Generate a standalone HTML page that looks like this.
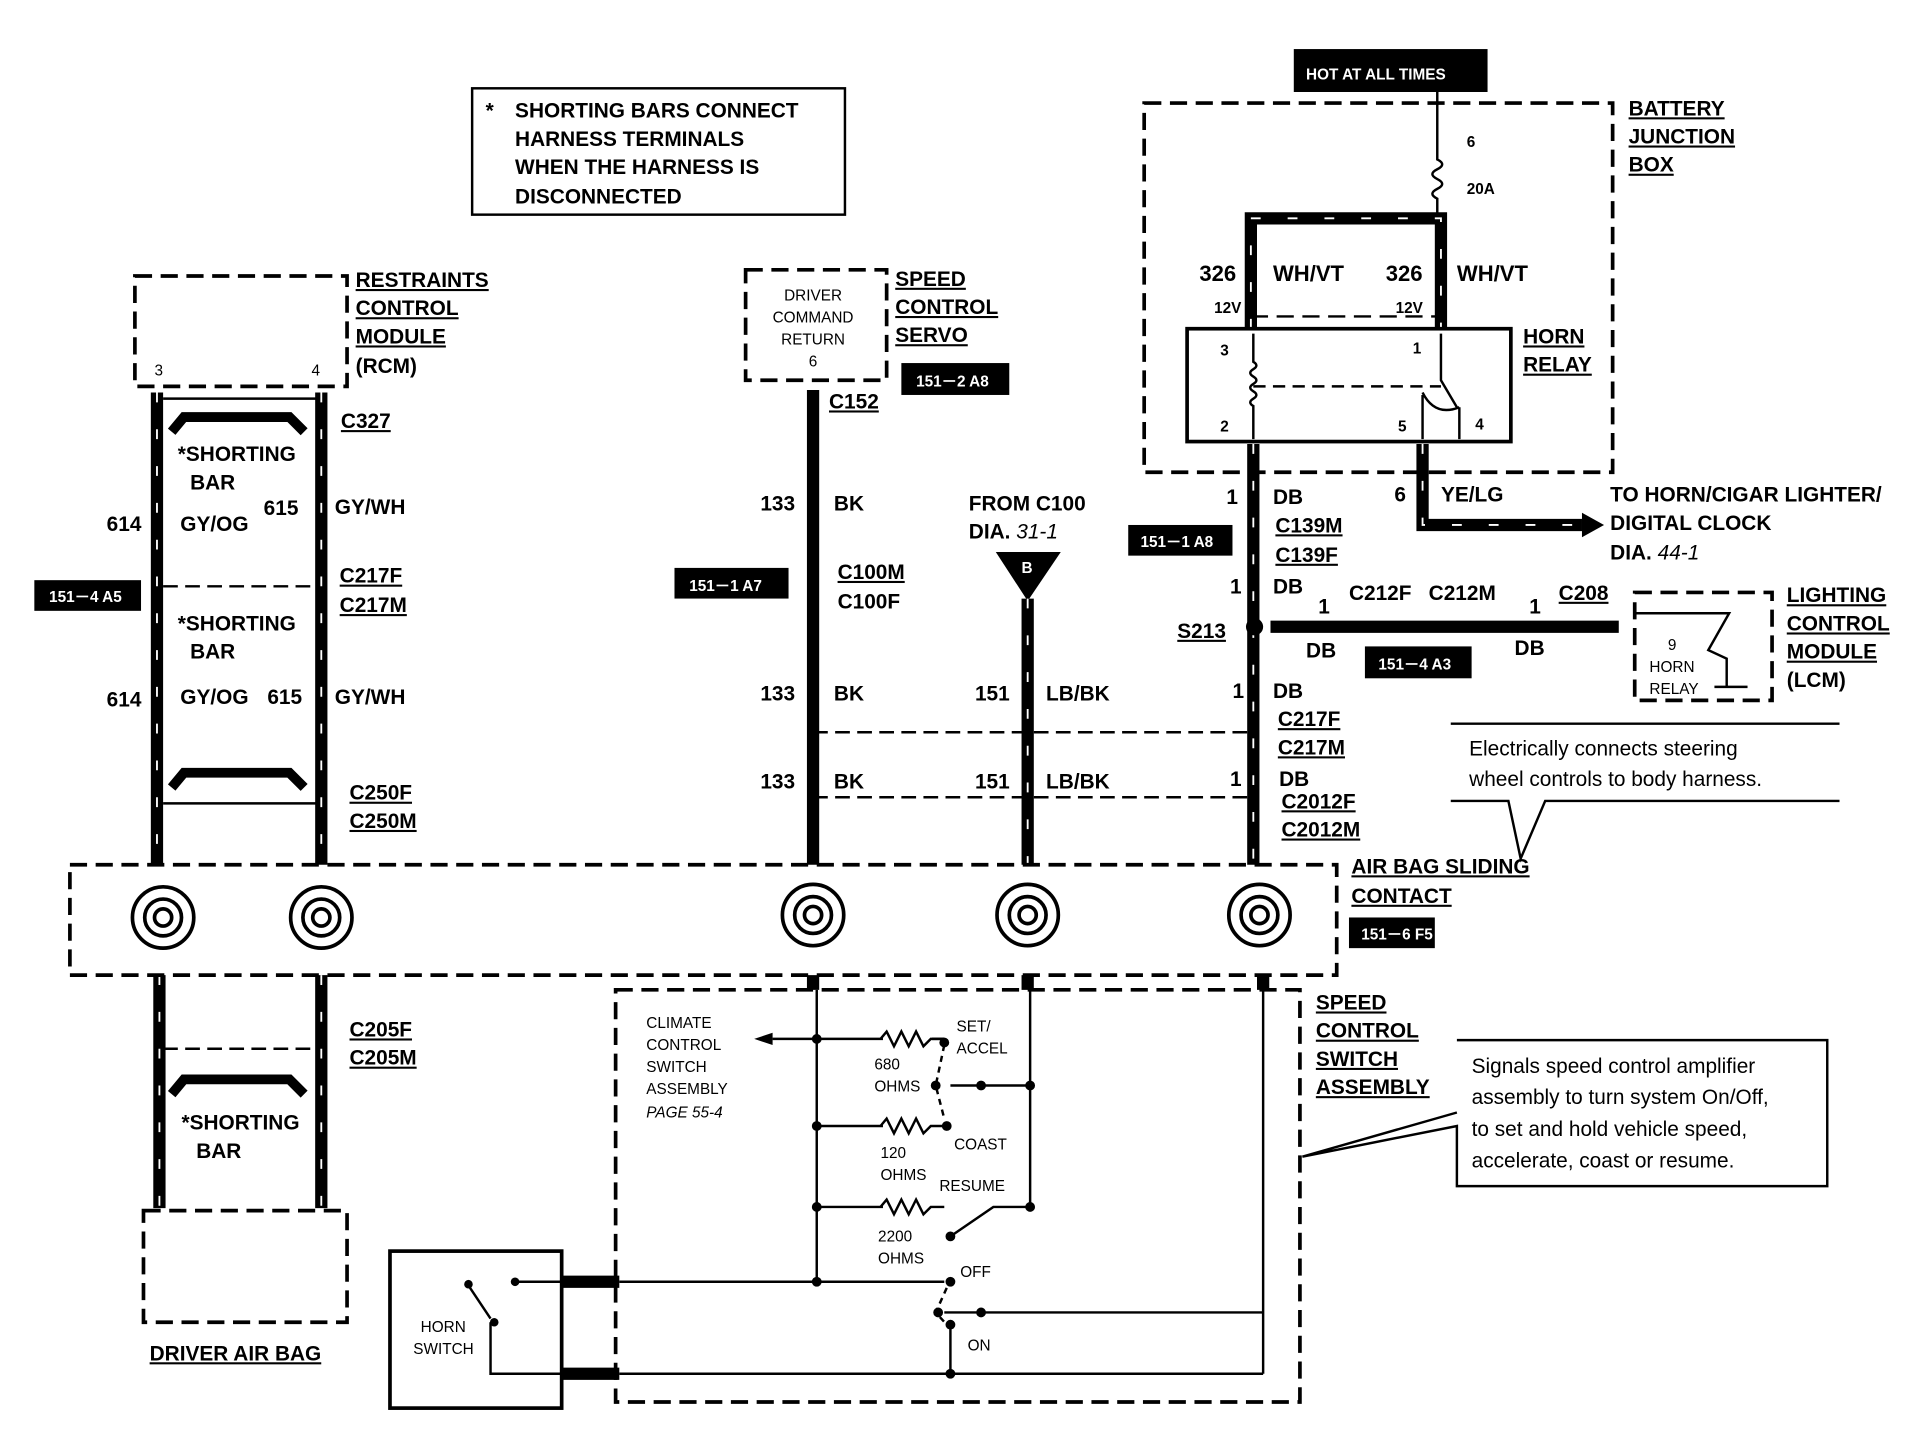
<!DOCTYPE html>
<html><head><meta charset="utf-8"><style>
html,body{margin:0;padding:0;background:#fff}
svg{display:block}
text{font-family:"Liberation Sans",Arial,sans-serif;fill:#000}
.b{font-weight:bold;font-size:17px}
.u{text-decoration:underline}
.s{font-size:12.5px}
.m{font-size:18px}
.w{fill:#fff;font-weight:bold;font-size:12.5px}
.d{fill:none;stroke:#000;stroke-width:3;stroke-dasharray:14 7}
.t{stroke:#000;stroke-width:10;fill:none}
.n{stroke:#000;stroke-width:2;fill:none}
.sl{stroke:#fff;stroke-width:1.5;stroke-dasharray:8 22;fill:none}
</style></head><body>
<svg width="1918" height="1440" viewBox="0 0 1564 1174" preserveAspectRatio="none" xmlns="http://www.w3.org/2000/svg">
<rect width="1564" height="1174" fill="#fff"/>
<rect x="385" y="72" width="304" height="103" fill="none" stroke="#000" stroke-width="2"/>
<text class="b" x="396" y="96">*</text>
<text class="b" x="420" y="96">SHORTING BARS CONNECT</text>
<text class="b" x="420" y="119">HARNESS TERMINALS</text>
<text class="b" x="420" y="142">WHEN THE HARNESS IS</text>
<text class="b" x="420" y="166">DISCONNECTED</text>
<rect x="1055" y="40" width="158" height="35" fill="#000"/>
<text class="w" x="1065" y="65">HOT AT ALL TIMES</text>
<rect class="d" x="933" y="84" width="382" height="301"/>
<text class="b u" x="1328" y="94">BATTERY</text>
<text class="b u" x="1328" y="117">JUNCTION</text>
<text class="b u" x="1328" y="140">BOX</text>
<path class="n" d="M1172 75V130 q8 4 0 8 q-8 4 0 8 q8 4 0 8 q-8 4 0 8V178"/>
<text class="b s" x="1196" y="120">6</text>
<text class="b s" x="1196" y="158">20A</text>
<path class="t" d="M1020 268V178H1175V268"/>
<path class="sl" d="M1020 268V178H1175V268"/>
<line x1="1020" y1="258" x2="1175" y2="258" stroke="#000" stroke-width="2" stroke-dasharray="14 7"/>
<text class="b m" x="978" y="229">326</text><text class="b m" x="1038" y="229">WH/VT</text>
<text class="b m" x="1130" y="229">326</text><text class="b m" x="1188" y="229">WH/VT</text>
<text class="b s" x="990" y="255">12V</text><text class="b s" x="1138" y="255">12V</text>
<rect x="968" y="268" width="264" height="92" fill="none" stroke="#000" stroke-width="3"/>
<text class="b u" x="1242" y="280">HORN</text><text class="b u" x="1242" y="303">RELAY</text>
<text class="b s" x="995" y="290">3</text><text class="b s" x="995" y="352">2</text>
<text class="b s" x="1152" y="288">1</text><text class="b s" x="1140" y="352">5</text><text class="b s" x="1203" y="350">4</text>
<path class="n" d="M1022 272V295 q5 3 0 6 q-5 3 0 6 q5 3 0 6 q-5 3 0 6 q5 3 0 6 q-5 3 0 6V358"/>
<line x1="1022" y1="315" x2="1175" y2="315" class="n" stroke-dasharray="10 6"/>
<path class="n" d="M1175 272V310L1188 332M1190 332V358M1160 320q10 20 30 12M1160 322V358"/>
<path class="t" d="M1022 362V705"/><path class="sl" d="M1022 362V705"/>
<path class="t" d="M1160 362V428H1290"/><path class="sl" d="M1160 362V428H1290"/>
<path d="M1290 418L1308 428L1290 438Z"/>
<text class="b" x="1000" y="411">1</text><text class="b" x="1038" y="411">DB</text>
<text class="b" x="1137" y="409">6</text><text class="b" x="1175" y="409">YE/LG</text>
<text class="b" x="1313" y="409">TO HORN/CIGAR LIGHTER/</text>
<text class="b" x="1313" y="432">DIGITAL CLOCK</text>
<text class="b" x="1313" y="456">DIA. <tspan font-style="italic" font-weight="normal">44-1</tspan></text>
<rect x="920" y="428" width="85" height="25" fill="#000"/><text class="w" x="930" y="446">151－1 A8</text>
<text class="b u" x="1040" y="434">C139M</text><text class="b u" x="1040" y="458">C139F</text>
<text class="b" x="1003" y="484">1</text><text class="b" x="1038" y="484">DB</text>
<text class="b u" x="960" y="520">S213</text>
<circle cx="1023" cy="511" r="7"/>
<path class="t" d="M1036 511H1320"/>
<text class="b" x="1100" y="489">C212F</text><text class="b" x="1165" y="489">C212M</text>
<text class="b" x="1075" y="500">1</text><text class="b" x="1065" y="536">DB</text>
<text class="b" x="1247" y="500">1</text><text class="b u" x="1271" y="489">C208</text><text class="b" x="1235" y="534">DB</text>
<rect x="1113" y="527" width="87" height="26" fill="#000"/><text class="w" x="1124" y="546">151－4 A3</text>
<rect class="d" x="1333" y="483" width="112" height="88"/>
<text class="s" x="1360" y="530">9</text><text class="s" x="1345" y="548">HORN</text><text class="s" x="1345" y="566">RELAY</text>
<path class="n" d="M1333 500H1410L1393 530L1408 537V560M1398 560H1425"/>
<text class="b u" x="1457" y="491">LIGHTING</text><text class="b u" x="1457" y="514">CONTROL</text>
<text class="b u" x="1457" y="537">MODULE</text><text class="b" x="1457" y="560">(LCM)</text>
<text class="b" x="1005" y="569">1</text><text class="b" x="1038" y="569">DB</text>
<text class="b u" x="1042" y="592">C217F</text><text class="b u" x="1042" y="615">C217M</text>
<text class="b" x="1003" y="641">1</text><text class="b" x="1043" y="641">DB</text>
<text class="b u" x="1045" y="659">C2012F</text><text class="b u" x="1045" y="682">C2012M</text>
<line x1="663" y1="597" x2="1022" y2="597" class="n" stroke-dasharray="12 6"/>
<line x1="663" y1="650" x2="1022" y2="650" class="n" stroke-dasharray="12 6"/>
<path class="n" d="M1183 590H1500M1183 653H1230L1240 700L1260 653H1500" stroke-width="1.5"/>
<text x="1198" y="616" font-size="17">Electrically connects steering</text>
<text x="1198" y="641" font-size="17">wheel controls to body harness.</text>
<rect class="d" x="608" y="220" width="115" height="90"/>
<text class="s" x="663" y="245" text-anchor="middle">DRIVER</text>
<text class="s" x="663" y="263" text-anchor="middle">COMMAND</text>
<text class="s" x="663" y="281" text-anchor="middle">RETURN</text>
<text class="s" x="663" y="299" text-anchor="middle">6</text>
<text class="b u" x="730" y="233">SPEED</text><text class="b u" x="730" y="256">CONTROL</text><text class="b u" x="730" y="279">SERVO</text>
<rect x="735" y="296" width="88" height="26" fill="#000"/><text class="w" x="747" y="315">151－2 A8</text>
<path class="t" d="M663 318V705"/>
<text class="b u" x="676" y="333">C152</text>
<text class="b" x="620" y="416">133</text><text class="b" x="680" y="416">BK</text>
<rect x="550" y="463" width="93" height="25" fill="#000"/><text class="w" x="562" y="482">151－1 A7</text>
<text class="b u" x="683" y="472">C100M</text><text class="b" x="683" y="496">C100F</text>
<text class="b" x="620" y="571">133</text><text class="b" x="680" y="571">BK</text>
<text class="b" x="620" y="643">133</text><text class="b" x="680" y="643">BK</text>
<text class="b" x="790" y="416">FROM C100</text>
<text class="b" x="790" y="439">DIA. <tspan font-style="italic" font-weight="normal">31-1</tspan></text>
<path d="M812 450H865L838 490Z"/><text class="w" x="833" y="467" font-size="14">B</text>
<path class="t" d="M838 488V705"/><path class="sl" d="M838 488V705"/>
<text class="b" x="795" y="571">151</text><text class="b" x="853" y="571">LB/BK</text>
<text class="b" x="795" y="643">151</text><text class="b" x="853" y="643">LB/BK</text>
<rect class="d" x="110" y="225" width="173" height="90"/>
<text class="s" x="126" y="306">3</text><text class="s" x="254" y="306">4</text>
<text class="b u" x="290" y="234">RESTRAINTS</text><text class="b u" x="290" y="257">CONTROL</text>
<text class="b u" x="290" y="280">MODULE</text><text class="b" x="290" y="304">(RCM)</text>
<path class="t" d="M128 320V705M262 320V705M130 795V985M262 795V985"/>
<path class="sl" d="M128 320V705M262 320V705M130 795V985M262 795V985"/>
<path class="n" d="M133 325H258M133 655H258"/>
<line x1="133" y1="478" x2="258" y2="478" class="n" stroke-dasharray="12 6"/>
<line x1="133" y1="855" x2="258" y2="855" class="n" stroke-dasharray="12 6"/>
<path d="M140 352L150 340H236L248 352" fill="none" stroke="#000" stroke-width="8"/>
<path d="M140 642L150 630H236L248 642" fill="none" stroke="#000" stroke-width="8"/>
<path d="M140 892L150 880H236L248 892" fill="none" stroke="#000" stroke-width="8"/>
<text class="b u" x="278" y="349">C327</text>
<text class="b" x="145" y="376">*SHORTING</text><text class="b" x="155" y="399">BAR</text>
<text class="b" x="87" y="433">614</text><text class="b" x="147" y="433">GY/OG</text>
<text class="b" x="215" y="420">615</text><text class="b" x="273" y="419">GY/WH</text>
<text class="b u" x="277" y="475">C217F</text><text class="b u" x="277" y="499">C217M</text>
<rect x="28" y="473" width="87" height="25" fill="#000"/><text class="w" x="40" y="491">151－4 A5</text>
<text class="b" x="145" y="514">*SHORTING</text><text class="b" x="155" y="537">BAR</text>
<text class="b" x="87" y="576">614</text><text class="b" x="147" y="574">GY/OG</text>
<text class="b" x="218" y="574">615</text><text class="b" x="273" y="574">GY/WH</text>
<text class="b u" x="285" y="652">C250F</text><text class="b u" x="285" y="675">C250M</text>
<text class="b u" x="285" y="845">C205F</text><text class="b u" x="285" y="868">C205M</text>
<text class="b" x="148" y="921">*SHORTING</text><text class="b" x="160" y="944">BAR</text>
<rect class="d" x="117" y="987" width="166" height="91"/>
<text class="b u" x="122" y="1109">DRIVER AIR BAG</text>
<rect class="d" x="57" y="705" width="1033" height="90"/>
<g fill="#fff" stroke="#000" stroke-width="3">
<circle cx="133" cy="748" r="25"/><circle cx="133" cy="748" r="15"/><circle cx="133" cy="748" r="7"/>
<circle cx="262" cy="748" r="25"/><circle cx="262" cy="748" r="15"/><circle cx="262" cy="748" r="7"/>
<circle cx="663" cy="746" r="25"/><circle cx="663" cy="746" r="15"/><circle cx="663" cy="746" r="7"/>
<circle cx="838" cy="746" r="25"/><circle cx="838" cy="746" r="15"/><circle cx="838" cy="746" r="7"/>
<circle cx="1027" cy="746" r="25"/><circle cx="1027" cy="746" r="15"/><circle cx="1027" cy="746" r="7"/>
</g>
<text class="b u" x="1102" y="712">AIR BAG SLIDING</text><text class="b u" x="1102" y="736">CONTACT</text>
<rect x="1100" y="748" width="70" height="25" fill="#000"/><text class="w" x="1110" y="766">151－6 F5</text>
<rect class="d" x="502" y="807" width="558" height="336"/>
<path class="t" d="M663 795V807M838 795V807M1030 795V807M458 1045H505M458 1120H505" stroke-width="8"/>
<path class="n" d="M666 807V1045M840 807V985M1030 807V1120M630 847H720M760 847H770M666 918H720M666 984H720M505 1045H770M505 1120H1030M775 885H840M775 1080V1120M775 1008L810 984H840" stroke-width="3"/>
<path d="M615 847L630 842V852Z"/>
<path class="n" stroke-width="2.5" d="M718 847l5-6 6 12 6-12 6 12 6-12 6 12 6-6H770M718 918l5-6 6 12 6-12 6 12 6-12 6 12 6-6H770M718 984l5-6 6 12 6-12 6 12 6-12 6 12 6-6H770"/>
<path class="n" stroke-dasharray="5 4" d="M770 852L763 885L770 912M772 1050L763 1070L772 1080"/>
<g><circle cx="666" cy="847" r="4"/><circle cx="666" cy="918" r="4"/><circle cx="666" cy="984" r="4"/><circle cx="666" cy="1045" r="4"/>
<circle cx="770" cy="850" r="4"/><circle cx="763" cy="885" r="4"/><circle cx="800" cy="885" r="4"/><circle cx="840" cy="885" r="4"/>
<circle cx="772" cy="918" r="4"/><circle cx="775" cy="1008" r="4"/><circle cx="840" cy="984" r="4"/>
<circle cx="775" cy="1045" r="4"/><circle cx="765" cy="1070" r="4"/><circle cx="800" cy="1070" r="4"/><circle cx="775" cy="1080" r="4"/><circle cx="775" cy="1120" r="4"/></g>
<path class="n" stroke-width="3" d="M770 1070H1030"/>
<text class="s" x="527" y="838">CLIMATE</text><text class="s" x="527" y="856">CONTROL</text>
<text class="s" x="527" y="874">SWITCH</text><text class="s" x="527" y="892">ASSEMBLY</text>
<text class="s" x="527" y="911" font-style="italic">PAGE 55-4</text>
<text class="s" x="780" y="841">SET/</text><text class="s" x="780" y="859">ACCEL</text>
<text class="s" x="713" y="872">680</text><text class="s" x="713" y="890">OHMS</text>
<text class="s" x="778" y="937">COAST</text>
<text class="s" x="718" y="944">120</text><text class="s" x="718" y="962">OHMS</text>
<text class="s" x="766" y="971">RESUME</text>
<text class="s" x="716" y="1012">2200</text><text class="s" x="716" y="1030">OHMS</text>
<text class="s" x="783" y="1041">OFF</text><text class="s" x="789" y="1101">ON</text>
<rect x="318" y="1020" width="140" height="128" fill="none" stroke="#000" stroke-width="3"/>
<path class="n" d="M380 1045L400 1075M420 1045H458M400 1078V1120H458"/>
<circle cx="382" cy="1047" r="3.5"/><circle cx="420" cy="1045" r="3.5"/><circle cx="403" cy="1078" r="3.5"/>
<text class="s" x="343" y="1086">HORN</text><text class="s" x="337" y="1104">SWITCH</text>
<text class="b u" x="1073" y="823">SPEED</text><text class="b u" x="1073" y="846">CONTROL</text>
<text class="b u" x="1073" y="869">SWITCH</text><text class="b u" x="1073" y="892">ASSEMBLY</text>
<path class="n" d="M1188 848H1490V967H1188V918L1062 943L1188 907" stroke-width="2"/>
<text x="1200" y="875" font-size="17">Signals speed control amplifier</text>
<text x="1200" y="900" font-size="17">assembly to turn system On/Off,</text>
<text x="1200" y="926" font-size="17">to set and hold vehicle speed,</text>
<text x="1200" y="952" font-size="17">accelerate, coast or resume.</text>
</svg>
</body></html>
